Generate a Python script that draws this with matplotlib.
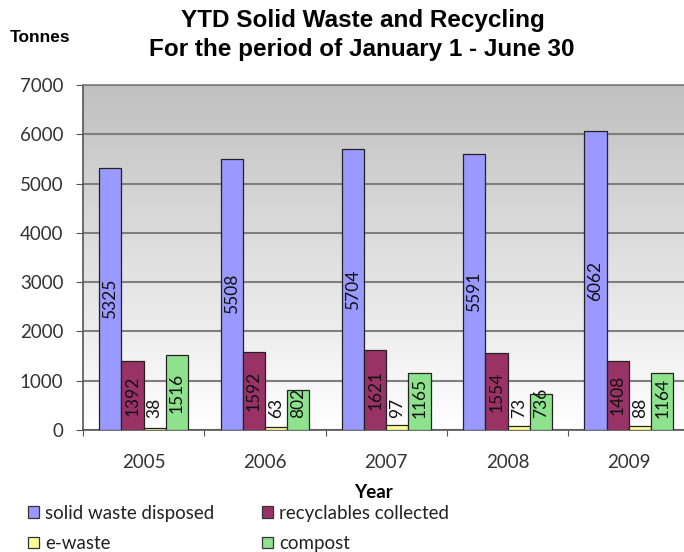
import matplotlib
matplotlib.use("Agg")
import matplotlib.pyplot as plt
import numpy as np
from matplotlib.patches import Patch
from matplotlib.colors import LinearSegmentedColormap

years = ["2005", "2006", "2007", "2008", "2009"]
solid_waste = [5325, 5508, 5704, 5591, 6062]
recyclables = [1392, 1592, 1621, 1554, 1408]
e_waste = [38, 63, 97, 73, 88]
compost = [1516, 802, 1165, 736, 1164]
series_names = ["solid waste disposed", "recyclables collected", "e-waste", "compost"]
yticks = [0, 1000, 2000, 3000, 4000, 5000, 6000, 7000]

colors = ["#9999FF", "#993366", "#FFFF99", "#8EE28E"]
series = [solid_waste, recyclables, e_waste, compost]

LF = "Lato"
TF = "Liberation Sans"

fig = plt.figure(figsize=(6.84, 5.52), dpi=100)
W, H = 684, 552
ax = fig.add_axes([83 / W, 1 - 430 / H, (689.5 - 83) / W, (430 - 85) / H])

# gradient background
grad = np.linspace(0, 1, 256).reshape(-1, 1)
cmap = LinearSegmentedColormap.from_list("g", ["#FFFFFF", "#C0C0C0"])
ax.imshow(grad, aspect="auto", cmap=cmap, extent=[-0.5, 4.5, 0, 7000], origin="lower", zorder=0)

ax.set_xlim(-0.5, 4.5)
ax.set_ylim(0, 7000)
for y in yticks:
    ax.axhline(y, color="#7F7F7F", lw=1.5, zorder=1)

x = np.arange(len(years))
w = 0.183
offsets = [-1.5 * w, -0.5 * w, 0.5 * w, 1.5 * w]
px_per_unit = 345 / 7000
for s, vals in enumerate(series):
    ax.bar(x + offsets[s], vals, width=w, color=colors[s], edgecolor="#222222", linewidth=0.9, zorder=3)
    for i, v in enumerate(vals):
        lab = str(v)
        half = len(lab) * 5.0 / px_per_unit
        yc = max(v / 2, 250 + half)
        ax.text(x[i] + offsets[s], yc, lab, rotation=90, ha="center", va="center",
                fontsize=12.5, family=LF, color="#111111", zorder=4)

ax.set_yticks(yticks)
ax.set_yticklabels([str(t) for t in yticks], family=LF, fontsize=13.5, color="#333333")
ax.set_xticks(np.arange(-0.5, 4.6, 1.0), minor=False)
ax.set_xticklabels([])
ax.set_xticks(x, minor=True)
ax.set_xticklabels(years, minor=True, family=LF, fontsize=13.5, color="#333333")
ax.tick_params(axis="x", which="major", length=4.5, color="#555555", direction="out")
ax.tick_params(axis="x", which="minor", length=0, pad=17)
ax.tick_params(axis="y", length=5, color="#555555", direction="out", pad=9)
for sp in ax.spines.values():
    sp.set_color("#7F7F7F")
    sp.set_linewidth(1.2)
ax.spines["left"].set_color("#555555")
ax.spines["bottom"].set_color("#555555")

fig.text(363 / W, 1 - 21 / H, "YTD Solid Waste and Recycling", ha="center", va="center",
         family=TF, fontweight="bold", fontsize=17.5)
fig.text(362 / W, 1 - 49 / H, "For the period of January 1 - June 30", ha="center", va="center",
         family=TF, fontweight="bold", fontsize=17.5)
fig.text(40 / W, 1 - 37 / H, "Tonnes", ha="center", va="center", family=TF,
         fontweight="bold", fontsize=12.5)
fig.text(373 / W, 1 - 492 / H, "Year", ha="center", va="center", family=LF,
         fontweight="bold", fontsize=13.5)

handles = [Patch(facecolor=c, edgecolor="#333333", linewidth=0.9) for c in colors]
# legend fills column-first; reorder so rows read as in the original
order = [0, 2, 1, 3]
leg = fig.legend([handles[k] for k in order], [series_names[k] for k in order],
                 loc="upper left", bbox_to_anchor=(28 / W, 1 - 505 / H),
                 ncol=2, frameon=False, prop={"family": LF, "size": 13.5},
                 handlelength=0.6, handleheight=0.6, handletextpad=0.3,
                 columnspacing=2.56, labelspacing=0.7, borderaxespad=0, borderpad=0)
for t in leg.get_texts():
    t.set_color("#222222")

fig.savefig("out.png", dpi=100)
